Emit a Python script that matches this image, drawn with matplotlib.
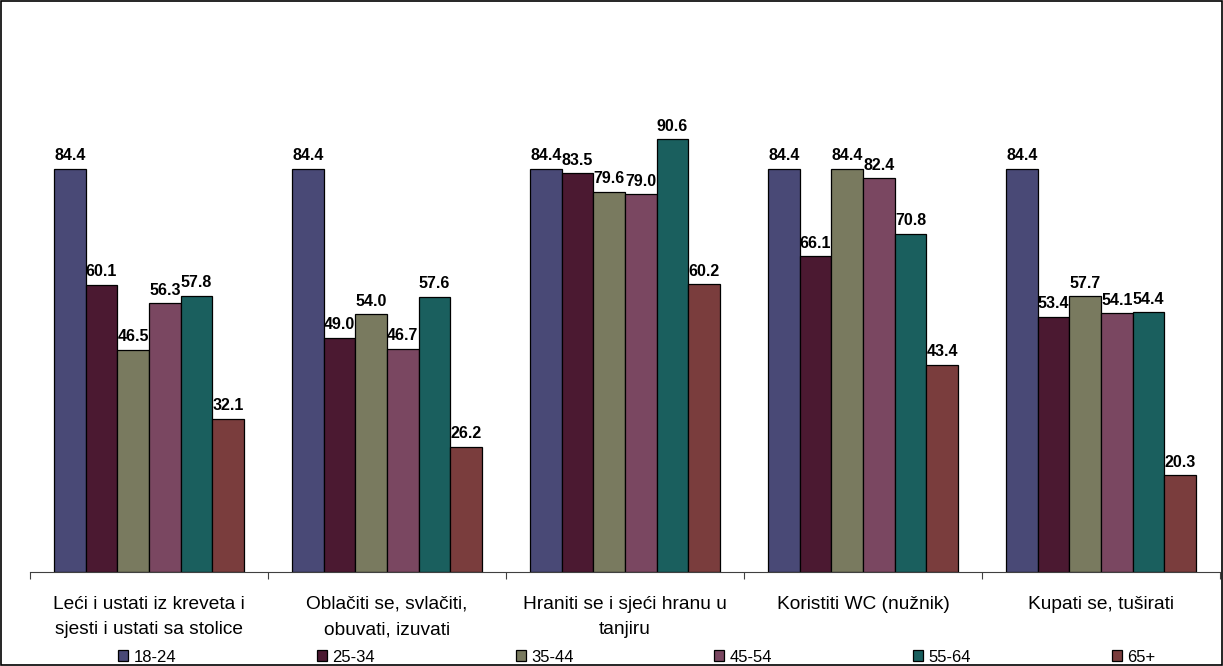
import matplotlib

matplotlib.use("Agg")
import matplotlib.pyplot as plt  # noqa: E402
import numpy as np  # noqa: E402

plt.rcParams["font.family"] = ["Liberation Sans", "DejaVu Sans"]

categories = [
    "Leći i ustati iz kreveta i\nsjesti i ustati sa stolice",
    "Oblačiti se, svlačiti,\nobuvati, izuvati",
    "Hraniti se i sjeći hranu u\ntanjiru",
    "Koristiti WC (nužnik)",
    "Kupati se, tuširati",
]
age_groups = ["18-24", "25-34", "35-44", "45-54", "55-64", "65+"]
v_18_24 = [84.4, 84.4, 84.4, 84.4, 84.4]
v_25_34 = [60.1, 49.0, 83.5, 66.1, 53.4]
v_35_44 = [46.5, 54.0, 79.6, 84.4, 57.7]
v_45_54 = [56.3, 46.7, 79.0, 82.4, 54.1]
v_55_64 = [57.8, 57.6, 90.6, 70.8, 54.4]
v_65 = [32.1, 26.2, 60.2, 43.4, 20.3]
series = [v_18_24, v_25_34, v_35_44, v_45_54, v_55_64, v_65]
colors = ["#494976", "#4b1931", "#797a5f", "#7a4761", "#1a5f5e", "#7a3d3d"]

W, H = 1223, 666
fig = plt.figure(figsize=(W / 100, H / 100), dpi=100)
ax = fig.add_axes([30 / W, (H - 572) / H, 1190 / W, 478 / H])

# border round the whole picture
fig.patches.append(
    plt.Rectangle((0.0008, 0.0015), 0.998, 0.997, transform=fig.transFigure,
                  fill=False, edgecolor="black", lw=1.2)
)

x = np.arange(len(categories))
width = 0.133
for i, (vals, col, name) in enumerate(zip(series, colors, age_groups)):
    pos = x + (i - 2.5) * width
    bars = ax.bar(pos, vals, width, color=col, edgecolor="black", lw=0.9, label=name)
    for b, v in zip(bars, vals):
        ax.annotate(f"{v:.1f}", (b.get_x() + b.get_width() / 2, v),
                    xytext=(0, 6), textcoords="offset points",
                    ha="center", va="baseline", fontsize=11.5, fontweight="bold")

ax.set_xlim(-0.5, len(categories) - 0.5)
ax.set_ylim(0, 100)
for s in ["top", "right", "left"]:
    ax.spines[s].set_visible(False)
ax.spines["bottom"].set_color("#404040")
ax.set_yticks([])

# boundary ticks, labels in the middle
ax.set_xticks(np.arange(len(categories) + 1) - 0.5)
ax.set_xticklabels([])
ax.tick_params(axis="x", which="major", length=5, color="#404040")
ax.set_xticks(x, minor=True)
ax.set_xticklabels(categories, minor=True, fontsize=13.8, linespacing=1.65)
ax.tick_params(axis="x", which="minor", length=0, pad=17)

fig.legend(
    loc="center left", bbox_to_anchor=(118 / W, 1 - 657 / H), ncol=6,
    frameon=False, fontsize=12, handlelength=0.6, handleheight=0.6,
    handletextpad=0.35, columnspacing=8.42, borderpad=0, borderaxespad=0,
)

fig.savefig("out.png", dpi=100)
